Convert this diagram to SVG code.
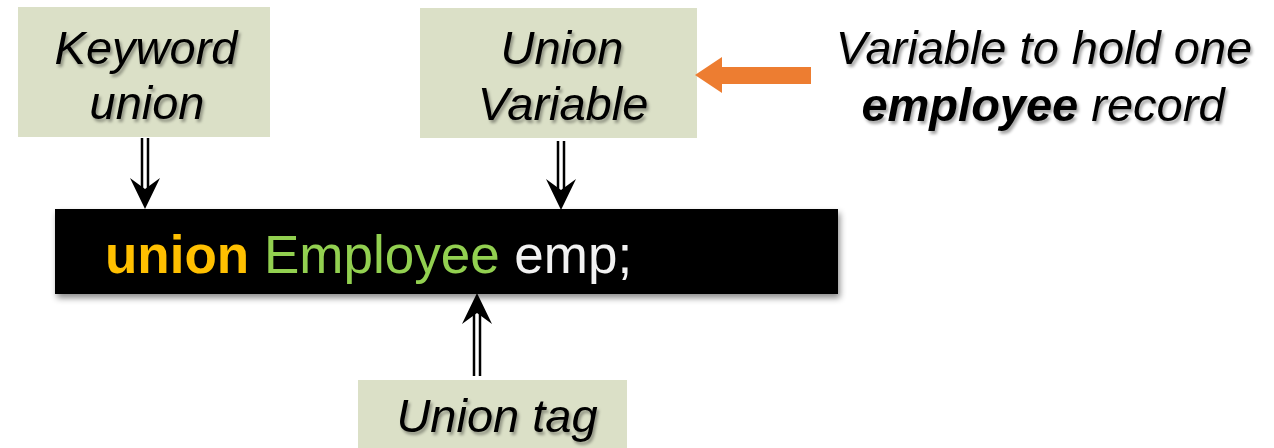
<svg xmlns="http://www.w3.org/2000/svg" width="1274" height="448" viewBox="0 0 1274 448">
<style>
.box{fill:#DBE0C7}
.lbl{font-family:"Liberation Sans",Arial,sans-serif;font-style:italic;font-size:47px;fill:#000;filter:url(#ts)}
.code{font-family:"Liberation Sans",Arial,sans-serif;font-size:53px}
.dl{stroke:#000;stroke-width:2.5;fill:none}
</style>
<defs>
<filter id="ts" x="-10%" y="-20%" width="120%" height="150%">
<feDropShadow dx="2" dy="3" stdDeviation="1.5" flood-color="#000" flood-opacity="0.35"/>
</filter>
<filter id="bs" x="-5%" y="-10%" width="110%" height="130%">
<feDropShadow dx="2" dy="4" stdDeviation="3" flood-color="#000" flood-opacity="0.45"/>
</filter>
<path id="head" d="M-15,-31 L0,0 L15,-31 L0,-20 Z" fill="#000"/>
</defs>
<rect width="1274" height="448" fill="#fff"/>

<g id="keyword">
<rect class="box" x="18" y="7" width="252" height="130"/>
<text class="lbl" x="146" y="64" text-anchor="middle">Keyword</text>
<text class="lbl" x="147" y="119" text-anchor="middle">union</text>
</g>

<g id="unionvar">
<rect class="box" x="420" y="8" width="277" height="130"/>
<text class="lbl" x="562" y="64" text-anchor="middle">Union</text>
<text class="lbl" x="563" y="120" text-anchor="middle">Variable</text>
</g>

<g id="note">
<text class="lbl" x="1044" y="64" text-anchor="middle">Variable to hold one</text>
<text class="lbl" x="1043" y="121" text-anchor="middle"><tspan font-weight="bold">employee</tspan> record</text>
</g>

<g id="code">
<rect x="55" y="209" width="783" height="85" fill="#000" filter="url(#bs)"/>
<text class="code" x="105" y="273"><tspan font-weight="bold" fill="#FFC000">union</tspan><tspan fill="#92D050"> Employee</tspan><tspan fill="#F2F2F2"> emp;</tspan></text>
</g>

<g id="uniontag">
<rect class="box" x="358" y="380" width="269" height="68"/>
<text class="lbl" x="497" y="432" text-anchor="middle">Union tag</text>
</g>

<g id="connectors">
<line class="dl" x1="142" y1="138" x2="142" y2="192"/>
<line class="dl" x1="148" y1="138" x2="148" y2="192"/>
<use href="#head" transform="translate(145,209)"/>
<line class="dl" x1="558" y1="141" x2="558" y2="193"/>
<line class="dl" x1="564" y1="141" x2="564" y2="193"/>
<use href="#head" transform="translate(561,210)"/>
<line class="dl" x1="474" y1="376" x2="474" y2="310"/>
<line class="dl" x1="480" y1="376" x2="480" y2="310"/>
<use href="#head" transform="translate(477,293) rotate(180)"/>
<polygon points="811,67 722,67 722,57 695,75 722,93 722,84 811,84" fill="#ED7D31"/>
</g>
</svg>
